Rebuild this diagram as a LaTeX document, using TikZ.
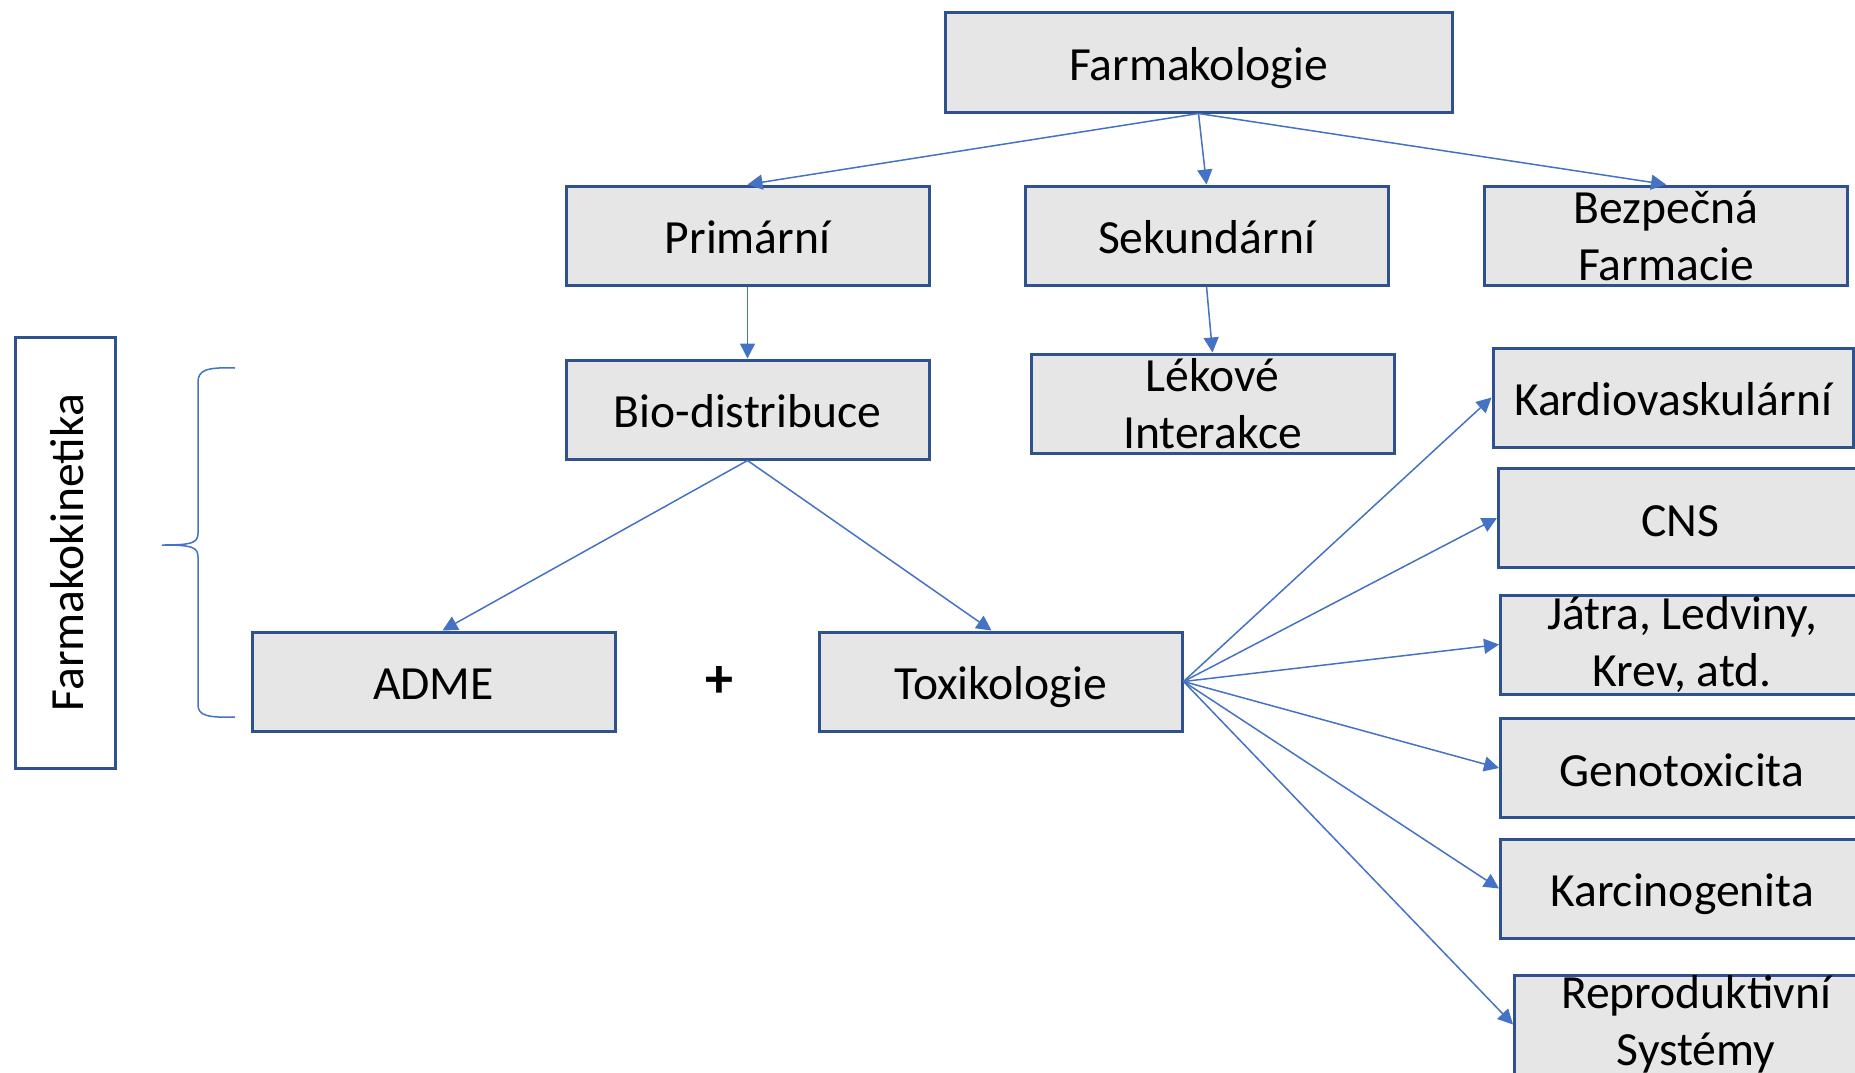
\documentclass[tikz,border=0pt]{standalone}
\usepackage{fontspec}
\setmainfont{Carlito}
\usetikzlibrary{arrows.meta,calc}
\definecolor{boxline}{HTML}{2F528F}
\definecolor{boxfill}{HTML}{E7E6E6}
\definecolor{conn}{HTML}{4472C4}
\begin{document}
\begin{tikzpicture}[x=0.5pt,y=-0.5pt,
  box/.style={draw=boxline,fill=boxfill,line width=1.5pt,minimum width=181.5pt,minimum height=49.5pt,inner sep=0pt,font=\fontsize{23.8}{28.5}\selectfont,align=center},
  one/.style={text height=22pt,text depth=4pt},
  arr/.style={draw=conn,line width=0.75pt,-{Triangle[length=7.5pt,width=7.5pt]}},
  bracestyle/.style={draw=conn,line width=0.75pt}
]
\useasboundingbox (0,0) rectangle (1855,1072);
\node[box,one,minimum width=253.5pt,minimum height=50pt] (farm) at (1198.5,62) {Farmakologie};
\node[box,one] (prim) at (747.5,235.5) {Primární};
\node[box,one] (sek) at (1206.5,235.5) {Sekundární};
\node[box] (bez) at (1666,235.5) {Bezpečná\\Farmacie};
\node[box,one] (bio) at (747.5,409.5) {Bio-distribuce};
\node[box] (lek) at (1212.5,403.5) {Lékové\\Interakce};
\node[box,one] (adme) at (433.5,681.5) {ADME};
\node[box,one] (tox) at (1000.5,681.5) {Toxikologie};
\node[box,one,minimum width=180pt] (kard) at (1673,397.5) {Kardiovaskulární};
\node[box,one] (cns) at (1680,518) {CNS};
\node[box] (jat) at (1682,644.5) {Játra, Ledviny,\\Krev, atd.};
\node[box,one] (gen) at (1682,768) {Genotoxicita};
\node[box,one] (kar) at (1682,888.5) {Karcinogenita};
\node[box] (rep) at (1696,1024.5) {Reproduktivní\\Systémy};
\node[box,one,fill=white,rotate=90,minimum width=215.5pt,minimum height=50pt] (fk) at (65,552.5) {Farmakokinetika};
\node[font=\fontsize{28}{30}\selectfont\bfseries,inner sep=0pt] (plus) at (719,682) {+};
\draw[arr] (farm.south) -- (prim.north);
\draw[arr] (farm.south) -- (sek.north);
\draw[arr] (farm.south) -- (bez.north);
\draw[arr] (prim.south) -- (bio.north);
\draw[arr] (sek.south) -- (lek.north);
\draw[arr] (bio.south) -- ($(adme.north)+(9,0)$);
\draw[arr] (bio.south) -- ($(tox.north)+(-9,0)$);
\foreach \t in {kard,cns,jat,gen,kar,rep} \draw[arr] (tox.east) -- (\t.west);
\draw[bracestyle] (235,368) .. controls (207,367) and (198,370) .. (198,382) -- (198,533) .. controls (198,543) and (192,545) .. (162,545) .. controls (192,545) and (198,547) .. (198,557) -- (198,705) .. controls (198,715) and (207,718) .. (235,717);
\end{tikzpicture}
\end{document}
